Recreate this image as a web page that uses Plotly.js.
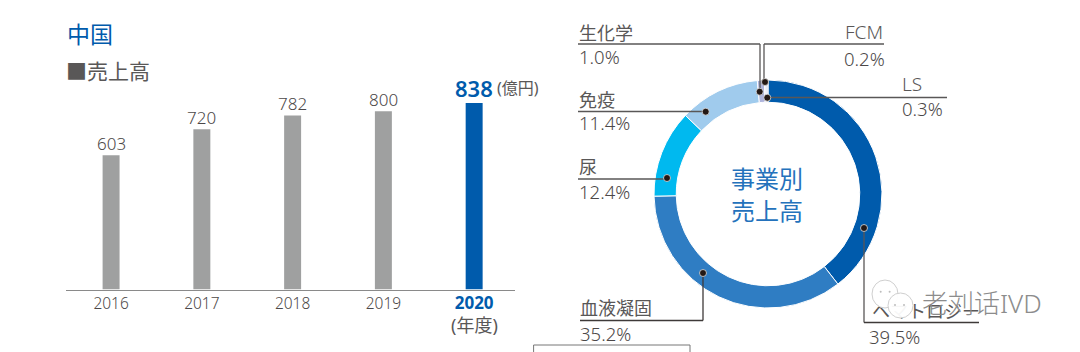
<!DOCTYPE html>
<html><head><meta charset="utf-8">
<script src="https://cdn.plot.ly/plotly-3.0.1.min.js"></script>
<style>html,body{margin:0;padding:0;background:#fff}#c{width:1080px;height:352px}</style></head>
<body><div id="c"></div>
<script>
const years = ['2016','2017','2018','2019','2020'];
const sales = [603,720,782,800,838];
const segments = ['ヘマトロジー','血液凝固','尿','免疫','生化学','FCM','LS'];
const shares = [39.5,35.2,12.4,11.4,1.0,0.2,0.3];
const shareLabels = ['39.5%','35.2%','12.4%','11.4%','1.0%','0.2%','0.3%'];
const segmentColors = ['#005BAC','#2F7DC3','#00B9EF','#A0CBED','#AEB4DC','#C9CCE8','#D5D8EE'];

const W=1080,H=352;
const FONT='"Noto Sans","Noto Sans CJK JP",sans-serif';
const GREY='#595757',DARK='#4c4848',BLUE='#005BAC',MID='#2472BC';
const px=x=>x/W, py=y=>1-y/H;

const bar={type:'bar',x:years.map((_,i)=>i),y:sales,width:0.187,
  marker:{color:years.map((_,i)=>i===4?BLUE:'#9FA0A0')},
  cliponaxis:false,hoverinfo:'skip'};
const pie={type:'pie',labels:segments,values:shares,sort:false,direction:'clockwise',rotation:0,hole:0.805,
  domain:{x:[px(654),px(882)],y:[py(308),py(80)]},
  marker:{colors:segmentColors,line:{color:'#fff',width:1}},
  textinfo:'none',showlegend:false,hoverinfo:'skip'};

function line(x0,y0,x1,y1,color,width){return {type:'line',xref:'paper',yref:'paper',x0:px(x0),y0:py(y0),x1:px(x1),y1:py(y1),line:{color:color||'#595757',width:width||1.3}};}
function dot(x,y){const r=3.5;return {type:'circle',xref:'paper',yref:'paper',x0:px(x-r),x1:px(x+r),y0:py(y+r),y1:py(y-r),fillcolor:'#231815',line:{color:'#ddd',width:0.8}};}
function ring(x0,y0,x1,y1){return {type:'circle',xref:'paper',yref:'paper',x0:px(x0),x1:px(x1),y0:py(y1),y1:py(y0),fillcolor:'rgba(255,255,255,0.95)',line:{color:'#cfcfcf',width:1}};}
function eye(x,y){return {type:'circle',xref:'paper',yref:'paper',x0:px(x-1),x1:px(x+1),y0:py(y+1),y1:py(y-1),fillcolor:'#bdbdbd',line:{width:0}};}
const shapes=[
  line(578,44,760,44),line(760,44,760,92),
  line(764,44,884,44),line(764,44,764,82),
  line(767,97.5,947,97.5),
  line(578,111.5,706,111.5),
  line(578,179,667,179),
  line(580,320.5,703,320.5,'#3e3a39'),line(703,273,703,320.5,'#3e3a39'),
  line(864,228,864,322.5),line(864,322.5,979,322.5,'#3e3a39'),
  dot(765,82),dot(759.7,91.7),dot(767.3,97.7),dot(705.7,111.7),dot(667,178),dot(703,273),dot(864,228),
  {type:'path',xref:'paper',yref:'paper',path:`M ${px(533.6)} ${py(352)} L ${px(533.6)} ${py(345)} L ${px(690)} ${py(345)} L ${px(690)} ${py(352)}`,line:{color:'#777',width:1}},
  {type:'rect',xref:'paper',yref:'paper',x0:px(869),x1:px(980),y0:py(321),y1:py(303),fillcolor:'rgba(0,0,0,0)',line:{width:0},
   label:{text:segments[0],textposition:'middle left',padding:0,font:{family:FONT,size:18,color:GREY}}},
  ring(872,280,898,308),ring(888,293,913,318),
  eye(880.7,291.7),eye(889.6,291.7),eye(895,305),eye(904,305)
];
function t(text,x,y,size,color,anchor,weight){return {xref:'paper',yref:'paper',x:px(x),y:py(y),text:text,showarrow:false,xanchor:anchor||'left',yanchor:'middle',borderpad:0,
  font:{family:FONT,size:size,color:color||GREY,weight:weight||400}};}
const P=18.5;
const annotations=[
  ...sales.map((v,i)=>({xref:'x',yref:'y',x:i,y:v,text:String(v),showarrow:false,yanchor:'middle',xanchor:'center',
    yshift:i===4?15:11.5,font:{family:FONT,size:i===4?22:17,color:i===4?BLUE:DARK,weight:i===4?600:300}})),
  t('中国',66,34,23,BLUE),
  t('■売上高',65,71,21,GREY),
  t('(億円)',496,88,16,GREY),
  t('(年度)',474.5,325,18,GREY,'center'),
  t('事業別',767,178,24,MID,'center'),
  t('売上高',767,210,24,MID,'center'),
  t(segments[4],578,33,18),t(shareLabels[4],578,57,P,DARK,'left',300),
  t(segments[5],884,32.5,19,GREY,'right',300),t(shareLabels[5],886,58,P,DARK,'right',300),
  t(segments[6],901,84,19,GREY,'left',300),t(shareLabels[6],901,109,P,DARK,'left',300),
  t(segments[3],578,100,18),t(shareLabels[3],578,123,P,DARK,'left',300),
  t(segments[2],578,167,18),t(shareLabels[2],578,191,P,DARK,'left',300),
  t(segments[1],579,308,18),t(shareLabels[1],579,333,P,DARK,'left',300),
  t(shareLabels[0],868,336,P,DARK,'left',300),
  t('老刘话IVD',921,303,26,'#8c8c8c','left',300)
];
Plotly.newPlot('c',[bar,pie],{
  width:W,height:H,margin:{l:0,r:0,t:0,b:0},paper_bgcolor:'#fff',plot_bgcolor:'#fff',showlegend:false,
  xaxis:{domain:[px(65.7),px(515)],range:[-0.5,4.45],tickmode:'array',tickvals:years.map((_,i)=>i),
    ticktext:years.map((y,i)=>i===4?`<b><span style="color:${BLUE};font-size:17px">${y}</span></b>`:y),
    tickfont:{family:FONT,size:15.5,color:DARK,weight:300},showgrid:false,zeroline:false,showline:true,linecolor:'#8a8a8a',linewidth:1,ticks:'',fixedrange:true},
  yaxis:{domain:[py(289.5),py(60)],range:[0,1030.7],visible:false,fixedrange:true},
  shapes:shapes,annotations:annotations
},{displayModeBar:false,staticPlot:true});
</script></body></html>
